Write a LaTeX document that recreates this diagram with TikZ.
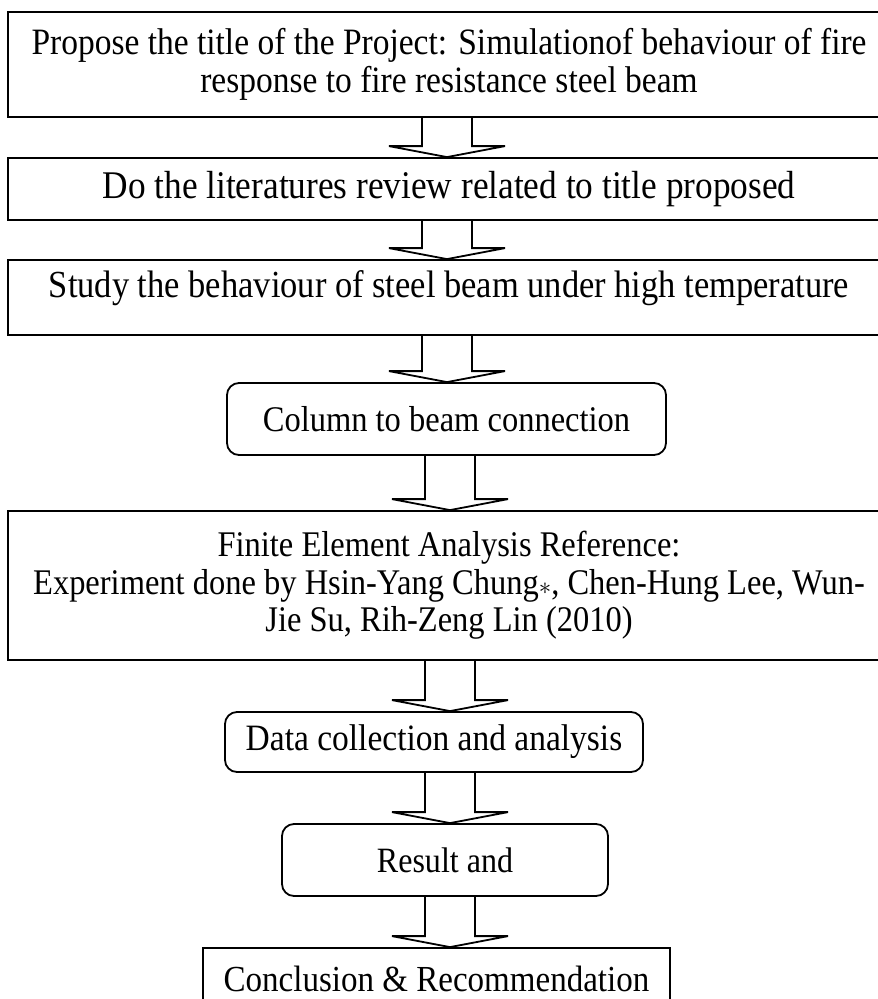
\documentclass[tikz,border=0pt]{standalone}
\usepackage{fontspec}
\setmainfont{Liberation Serif}[FakeStretch=0.9]
\usetikzlibrary{calc}
\newcommand{\barrow}[3]{%
  \draw[conn] ($(#1.south -| #3)+(-25,0)$) -- ($(#2.north -| #3)+(-25,-11)$)
    -- ($(#2.north -| #3)+(-58,-11)$) -- (#2.north -| #3)
    -- ($(#2.north -| #3)+(58,-11)$) -- ($(#2.north -| #3)+(25,-11)$)
    -- ($(#1.south -| #3)+(25,0)$);}
\newcommand{\fs}[1]{\fontsize{#1}{37.5}\selectfont}
\begin{document}
\begin{tikzpicture}[x=1pt,y=-1pt,
  box/.style={draw, line width=1.8pt, inner sep=0pt, align=center},
  rbox/.style={box, rounded corners=12pt},
  conn/.style={line width=1.8pt, line join=miter}]
\useasboundingbox (0,0) rectangle (878,999);
\clip (0,0) rectangle (878,999);
\fill[white] (0,0) rectangle (878,999);
\coordinate (ca) at (447,0);
\coordinate (cb) at (450,0);

\node[box, font=\fs{37.2}, minimum width=882pt, minimum height=105pt] (b1) at (449,64.5)
  {Propose the title of the Project: Simulationof behaviour of fire\\response to fire resistance steel beam};
\node[box, font=\fs{39.2}, minimum width=882pt, minimum height=62pt] (b2) at (449,189)
  {Do the literatures review related to title proposed};
\node[box, font=\fs{38.3}, minimum width=882pt, minimum height=75pt] (b3) at (449,297.5)
  {Study the behaviour of steel beam under high temperature\rule[-26pt]{0pt}{26pt}};
\node[rbox, font=\fs{36.1}, minimum width=439pt, minimum height=72pt] (b4) at (446.5,419)
  {Column to beam connection};
\node[box, font=\fs{36.1}, minimum width=882pt, minimum height=149pt] (b5) at (449,585.5)
  {Finite Element Analysis Reference:\\Experiment done by Hsin-Yang Chung$\ast$, Chen-Hung Lee, Wun-\\Jie Su, Rih-Zeng Lin (2010)};
\node[rbox, font=\fs{37.2}, minimum width=418pt, minimum height=60pt] (b6) at (434,742)
  {Data collection and analysis};
\node[rbox, font=\fs{35.6}, minimum width=326pt, minimum height=72pt] (b7) at (445,860)
  {Result and};
\node[box, font=\fs{36.7}, minimum width=467pt, minimum height=62pt] (b8) at (436.5,979)
  {Conclusion \& Recommendation};

\barrow{b1}{b2}{ca}
\barrow{b2}{b3}{ca}
\barrow{b3}{b4}{ca}
\barrow{b4}{b5}{cb}
\barrow{b5}{b6}{cb}
\barrow{b6}{b7}{cb}
\barrow{b7}{b8}{cb}
\end{tikzpicture}
\end{document}
